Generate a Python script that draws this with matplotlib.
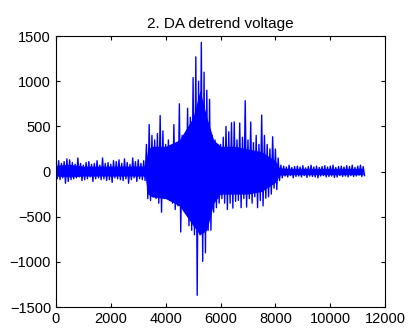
import numpy as np
import matplotlib.pyplot as plt

# envelope, one bin every 100 samples
# hi = upper swing in the bin, lo = lower swing in the bin
hi = [100, 120, 90, 110, 140, 130, 100, 80, 150, 90, 70, 100, 110, 80, 90, 120,
      70, 150, 90, 100, 80, 120, 110, 130, 90, 140, 100, 80, 150, 110, 130, 90, 120,
      300, 520, 400, 350, 420, 620, 450, 300, 350, 280, 520, 300, 750, 400, 380,
      700, 600, 1040, 1270, 1000, 1430, 1100, 900, 800, 400, 350, 300, 300, 380,
      500, 440, 540, 550, 350, 537, 380, 784, 350, 548, 320, 400, 300, 625, 400,
      300, 250, 385, 250, 150, 70,
      60, 50, 70, 45, 55, 60, 50, 65, 40, 55, 70, 50, 60, 45, 55, 65, 50, 60,
      70, 45, 55, 60, 50, 65, 55, 70, 45, 60, 70, 55]
lo = [-80, -90, -70, -130, -110, -90, -80, -70, -60, -100, -90, -80, -60, -110,
      -80, -70, -90, -80, -100, -90, -120, -70, -80, -90, -100, -80, -130, -90,
      -70, -110, -80, -90, -100,
      -300, -320, -280, -300, -350, -450, -300, -300, -320, -350, -420, -380, -670,
      -400, -450, -600, -650, -700, -1370, -700, -995, -900, -650, -650, -450, -400,
      -350, -300, -350, -420, -350, -405, -330, -320, -400, -300, -393, -300, -350,
      -280, -400, -320, -380, -295, -280, -250, -185, -200, -100, -70,
      -50, -60, -45, -70, -55, -50, -60, -45, -65, -50, -55, -60, -70, -50, -45,
      -60, -55, -50, -65, -60, -45, -55, -50, -60, -45, -55, -50, -40, -55, -45]

# solid core of the trace (where the samples are too dense to separate)
core_t = [0, 500, 1000, 1500, 2000, 2500, 3000, 3250, 3350, 3500, 4000, 4500,
          5000, 5250, 5500, 5750, 6000, 6500, 7000, 7500, 8000, 8150, 8500,
          9500, 10500, 11200]
core_hi = [70, 80, 60, 60, 60, 60, 60, 60, 250, 280, 280, 350,
           600, 900, 600, 350, 280, 280, 250, 220, 120, 40, 35,
           35, 35, 35]
core_lo = [-50, -60, -50, -50, -50, -50, -50, -50, -250, -280, -300, -380,
           -600, -700, -650, -350, -250, -250, -250, -220, -120, -40, -35,
           -35, -35, -35]

n = min(len(hi), len(lo))
t = np.empty(2 * n)
v = np.empty(2 * n)
t[0::2] = np.arange(n) * 100
t[1::2] = np.arange(n) * 100 + 50
v[0::2] = hi[:n]
v[1::2] = lo[:n]

plt.rcParams['font.family'] = ['Liberation Sans', 'DejaVu Sans']

fig = plt.figure(figsize=(4.08, 3.31), dpi=100)
ax = fig.add_axes([0.137, 0.0725, 0.807, 0.8185])
ax.fill_between(core_t, core_lo, core_hi, color='#0000ff', linewidth=0)
ax.plot(t, v, color='#0000ff', linewidth=1.0)
ax.set_xlim(0, 12000)
ax.set_ylim(-1500, 1500)
ax.set_xticks(range(0, 12001, 2000))
ax.set_yticks(range(-1500, 1501, 500))
ax.tick_params(direction='in', top=True, right=True, length=3, labelsize=10.5)
ax.set_title("2. DA detrend voltage", fontsize=11)
fig.savefig("out.png", dpi=100)
